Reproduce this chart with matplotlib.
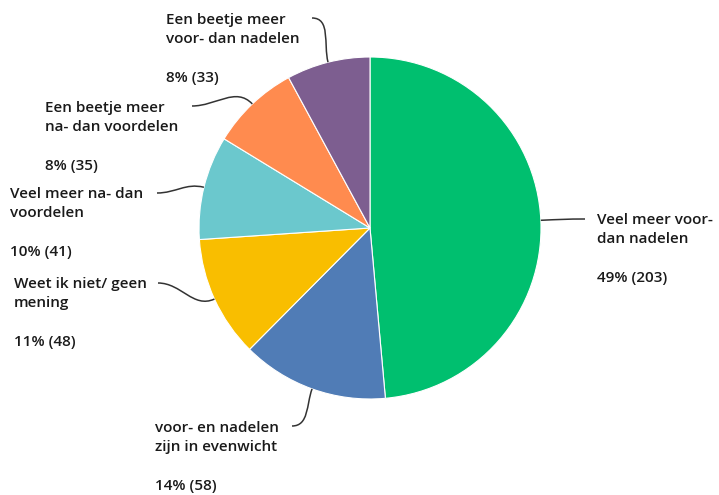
import numpy as np
import matplotlib.pyplot as plt
from matplotlib.path import Path
from matplotlib.patches import PathPatch
from matplotlib.transforms import IdentityTransform

# data, clockwise from 12 o'clock
labels = ['Veel meer voor-\ndan nadelen',
          'voor- en nadelen\nzijn in evenwicht',
          'Weet ik niet/ geen\nmening',
          'Veel meer na- dan\nvoordelen',
          'Een beetje meer\nna- dan voordelen',
          'Een beetje meer\nvoor- dan nadelen']
counts = [203, 58, 48, 41, 35, 33]
pcts = [49, 14, 11, 10, 8, 8]
colors = ['#00BF6F', '#507CB6', '#F9BE00', '#6BC8CD', '#FF8B4F', '#7D5E90']

W, H = 719, 495
cx, cy, R = 370, 228, 171   # pie centre / radius in pixels (top origin)

# label layout: text left x, first-line centre y, connector end (x, y), side
layout = [
    (597, 219, (585, 219), 'left'),
    (155, 427, (292, 426), 'right'),
    (14, 283, (158, 283), 'right'),
    (10, 193, (157, 193), 'right'),
    (45, 107, (192, 106), 'right'),
    (166, 19, (312, 18), 'right'),
]

plt.rcParams['font.family'] = ['Open Sans', 'DejaVu Sans']
fig = plt.figure(figsize=(W / 100, H / 100), dpi=100)
ax = fig.add_axes([(cx - R) / W, (H - cy - R) / H, 2 * R / W, 2 * R / H])
wedges, _ = ax.pie(counts, colors=colors, startangle=90, counterclock=False,
                   wedgeprops=dict(edgecolor='white', linewidth=0.8))
ax.set_xlim(-1, 1)
ax.set_ylim(-1, 1)
ax.set_aspect('equal')

fs = 11
for w, lab, n, p, (tx, ty, end, side) in zip(wedges, labels, counts, pcts, layout):
    ang = np.deg2rad((w.theta1 + w.theta2) / 2)
    sx, sy = ax.transData.transform((np.cos(ang), np.sin(ang)))
    ex, ey = end[0], H - end[1]
    d = 0.4 * np.hypot(ex - sx, ey - sy)
    c1 = (sx + d * np.cos(ang), sy + d * np.sin(ang))
    hdir = 1 if side == 'right' else -1
    c2 = (ex + hdir * d, ey)
    path = Path([(sx, sy), c1, c2, (ex, ey)],
                [Path.MOVETO, Path.CURVE4, Path.CURVE4, Path.CURVE4])
    fig.patches.append(PathPatch(path, fc='none', ec='#333333', lw=1.1,
                                 transform=IdentityTransform(), figure=fig))
    fig.text(tx / W, 1 - (ty - 6) / H, lab + '\n\n' + f'{p}% ({n})',
             ha='left', va='top', fontsize=fs, color='#1a1a1a',
             linespacing=1.48, fontweight='semibold')

fig.savefig('out.png', dpi=100)
